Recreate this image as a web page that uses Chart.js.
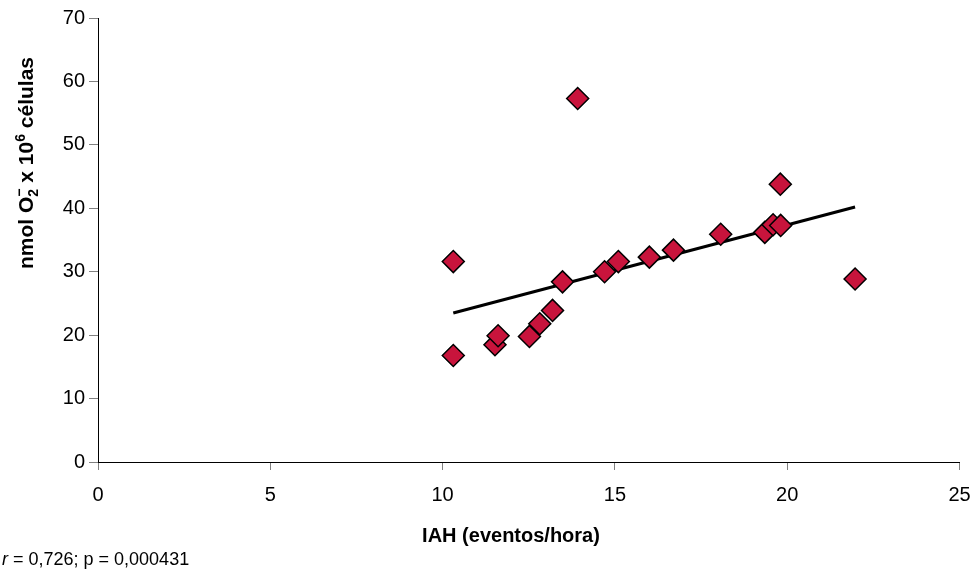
<!DOCTYPE html>
<html lang="es">
<head>
    <meta charset="UTF-8">
    <title>IAH vs nmol O2</title>
    <script src="https://cdn.jsdelivr.net/npm/chart.js"></script>
    <style>
        html, body { margin: 0; padding: 0; background: #fff; }
        #wrap { width: 972px; height: 569px; position: relative; }
    </style>
</head>
<body>
    <div id="wrap">
        <canvas id="scatterChart" width="972" height="569"></canvas>
    </div>

    <script>
        // values
        const iahValues = [10.31, 10.31, 11.52, 11.61, 12.52, 12.82, 13.19, 13.48, 13.92, 14.70, 15.10, 16.00, 16.70, 18.07, 19.35, 19.59, 19.81, 19.80, 21.97];
        const o2Values  = [31.6, 16.8, 18.5, 19.9, 19.8, 21.8, 23.9, 28.4, 57.3, 30.0, 31.6, 32.3, 33.4, 35.9, 36.2, 37.4, 37.3, 43.8, 28.85];
        const trendX = [10.31, 21.97];
        const trendY = [23.5, 40.2];

        const xTitle = 'IAH (eventos/hora)';
        const statsText = ' = 0,726; p = 0,000431';
        const fontFamily = '"Liberation Sans", Arial, sans-serif';

        const points = iahValues.map((x, i) => ({ x: x, y: o2Values[i] }));
        const trendPoints = trendX.map((x, i) => ({ x: x, y: trendY[i] }));

        // texts that Chart.js titles can't place exactly (stacked sub/superscript)
        const labelsPlugin = {
            id: 'labels',
            afterDraw(chart) {
                const ctx = chart.ctx;
                ctx.save();
                ctx.fillStyle = '#000';

                // y title, rotated
                const big = 'bold 21px ' + fontFamily;
                const small = 'bold 14px ' + fontFamily;
                ctx.font = big;
                const w1 = ctx.measureText('nmol O').width;
                const w3 = ctx.measureText(' x 10').width;
                const w5 = ctx.measureText(' células').width;
                ctx.font = small;
                const w2 = Math.max(ctx.measureText('\u2212').width, ctx.measureText('2').width);
                const w4 = ctx.measureText('6').width;
                const total = w1 + w2 + w3 + w4 + w5;

                ctx.translate(26, 163);
                ctx.rotate(-Math.PI / 2);
                ctx.textBaseline = 'alphabetic';
                let x = -total / 2;
                const base = 7;
                ctx.font = big;
                ctx.fillText('nmol O', x, base); x += w1;
                ctx.font = small;
                ctx.fillText('\u2212', x, base - 9);
                ctx.fillText('2', x, base + 5); x += w2;
                ctx.font = big;
                ctx.fillText(' x 10', x, base); x += w3;
                ctx.font = small;
                ctx.fillText('6', x, base - 8); x += w4;
                ctx.font = big;
                ctx.fillText(' células', x, base);
                ctx.restore();

                // x title
                ctx.save();
                ctx.fillStyle = '#000';
                ctx.font = 'bold 20px ' + fontFamily;
                ctx.textAlign = 'center';
                ctx.textBaseline = 'middle';
                ctx.fillText(xTitle, 511, 536);

                // statistics note
                ctx.textAlign = 'left';
                ctx.font = 'italic 18px ' + fontFamily;
                ctx.fillText('r', 2, 560);
                const rw = ctx.measureText('r').width;
                ctx.font = '18px ' + fontFamily;
                ctx.fillText(statsText, 2 + rw, 560);
                ctx.restore();
            }
        };

        const ctx = document.getElementById('scatterChart').getContext('2d');
        new Chart(ctx, {
            type: 'scatter',
            data: {
                datasets: [
                    {
                        label: 'nmol O2',
                        data: points,
                        pointStyle: 'rectRot',
                        pointRadius: 11,
                        pointHoverRadius: 11,
                        backgroundColor: '#C8143C',
                        borderColor: '#000',
                        borderWidth: 1.5,
                        order: 1
                    },
                    {
                        type: 'line',
                        label: 'tendencia',
                        data: trendPoints,
                        borderColor: '#000',
                        borderWidth: 3,
                        pointRadius: 0,
                        fill: false,
                        order: 2
                    }
                ]
            },
            options: {
                responsive: false,
                animation: false,
                layout: { padding: { top: 18, right: 7, bottom: 0, left: 0 } },
                plugins: {
                    legend: { display: false },
                    tooltip: { enabled: false }
                },
                scales: {
                    x: {
                        type: 'linear',
                        min: 0,
                        max: 25,
                        ticks: {
                            stepSize: 5,
                            padding: 13,
                            color: '#000',
                            font: { family: fontFamily, size: 20 }
                        },
                        grid: { drawOnChartArea: false, drawTicks: true, tickLength: 8, color: '#808080' },
                        border: { color: '#000', width: 1 },
                        afterFit: (scale) => {
                            scale.height = 107;
                            scale.paddingLeft = 0;
                            scale.paddingRight = 0;
                        }
                    },
                    y: {
                        min: 0,
                        max: 70,
                        ticks: {
                            stepSize: 10,
                            padding: 4,
                            color: '#000',
                            font: { family: fontFamily, size: 20 }
                        },
                        grid: { drawOnChartArea: false, drawTicks: true, tickLength: 9, color: '#808080' },
                        border: { color: '#000', width: 1 },
                        afterFit: (scale) => {
                            scale.width = 98;
                            scale.paddingTop = 0;
                            scale.paddingBottom = 0;
                        }
                    }
                }
            },
            plugins: [labelsPlugin]
        });
    </script>
</body>
</html>
